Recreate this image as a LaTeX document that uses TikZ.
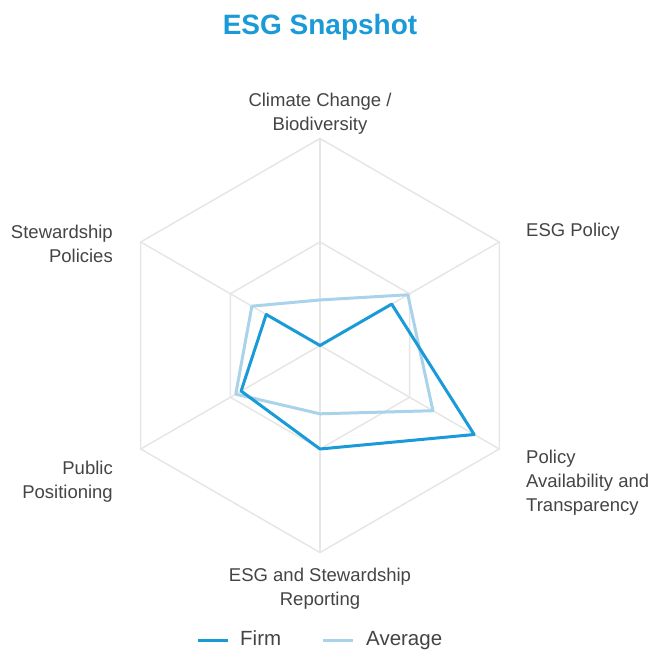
\documentclass[tikz,border=0pt]{standalone}
\usepackage{fontspec}
\setmainfont{Liberation Sans}
\usetikzlibrary{positioning}

\definecolor{firmblue}{HTML}{1A9AD6}
\definecolor{avgblue}{HTML}{A9D3EA}
\definecolor{gridgray}{HTML}{E6E6E6}
\definecolor{labelgray}{HTML}{444444}

\tikzset{
  grid line/.style={gridgray, line width=1.5pt},
  firm line/.style={firmblue, line width=3pt, line join=round},
  avg line/.style={avgblue, line width=3pt, line join=round},
  axis label/.style={font=\fontsize{18.5}{24}\selectfont, text=labelgray, inner sep=0pt},
  legend text/.style={font=\fontsize{20.5}{24}\selectfont, text=labelgray, inner sep=0pt,
    text height=14pt, text depth=4pt},
}

\begin{document}
\begin{tikzpicture}[x=1pt,y=1pt]
  \useasboundingbox (-320,-307.5) rectangle (330,345.5);
  \def\R{207}
  \coordinate (centre) at (0,0);

  % grid
  \foreach \r in {103.5,207}
    \draw[grid line] (90:\r) -- (30:\r) -- (-30:\r) -- (-90:\r) -- (-150:\r) -- (150:\r) -- cycle;
  \foreach \a in {90,30,-30,-90,-150,150}
    \draw[grid line] (centre) -- (\a:\R);

  % series
  \draw[avg line] (90:0.22*\R) -- (30:0.49*\R) -- (-30:0.63*\R) -- (-90:0.33*\R)
    -- (-150:0.47*\R) -- (150:0.38*\R) -- cycle;
  \draw[firm line] (centre) -- (30:0.40*\R) -- (-30:0.86*\R) -- (-90:0.50*\R)
    -- (-150:0.44*\R) -- (150:0.30*\R) -- cycle;

  % title
  \node[font=\fontsize{28}{32}\selectfont\bfseries, text=firmblue] (title) at (0,318) {ESG Snapshot};

  % axis labels
  \node[axis label, align=center] (climate) at (0,231.5) {Climate Change /\\Biodiversity};
  \node[axis label, anchor=west] (esgpolicy) at (206,113.5) {ESG Policy};
  \node[axis label, anchor=west, align=left] (availability) at (206,-137) {Policy\\Availability and\\Transparency};
  \node[axis label, align=center] (reporting) at (0,-243.5) {ESG and Stewardship\\Reporting};
  \node[axis label, anchor=east, align=right] (public) at (-207,-136.5) {Public\\Positioning};
  \node[axis label, anchor=east, align=right] (stewardship) at (-207,101.5) {Stewardship\\Policies};

  % legend
  \coordinate (firmkeyL) at (-122,-294.5);
  \coordinate (firmkeyR) at (-92,-294.5);
  \draw[firm line] (firmkeyL) -- (firmkeyR);
  \node[legend text, right=12pt of firmkeyR] (firmtext) {Firm};
  \coordinate (avgkeyL) at (3,-294.5);
  \coordinate (avgkeyR) at (33,-294.5);
  \draw[avg line] (avgkeyL) -- (avgkeyR);
  \node[legend text, right=13pt of avgkeyR] (avgtext) {Average};
\end{tikzpicture}
\end{document}
